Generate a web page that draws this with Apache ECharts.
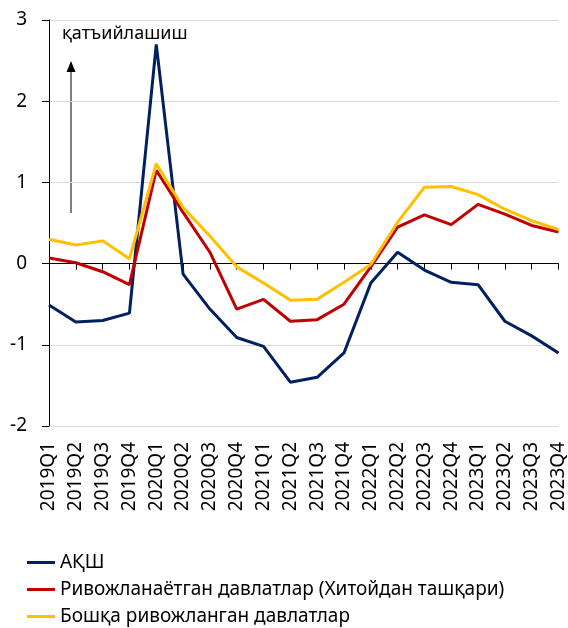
<!DOCTYPE html>
<html>
<head>
<meta charset="utf-8">
<script src="https://cdn.jsdelivr.net/npm/echarts@6/dist/echarts.min.js"></script>
<style>
  html, body { margin: 0; padding: 0; background: #fff; }
  #chart { width: 568px; height: 628px; }
</style>
</head>
<body>
<div id="chart"></div>
<script>
// categories
var quarters = ['2019Q1','2019Q2','2019Q3','2019Q4','2020Q1','2020Q2','2020Q3','2020Q4',
  '2021Q1','2021Q2','2021Q3','2021Q4','2022Q1','2022Q2','2022Q3','2022Q4',
  '2023Q1','2023Q2','2023Q3','2023Q4'];
// series values
var usa = [-0.51,-0.72,-0.70,-0.61,2.70,-0.13,-0.56,-0.91,-1.02,-1.46,-1.40,-1.10,-0.24,0.14,-0.08,-0.23,-0.26,-0.71,-0.89,-1.10];
var emerging = [0.07,0.01,-0.10,-0.26,1.15,0.63,0.14,-0.56,-0.44,-0.71,-0.69,-0.50,-0.04,0.45,0.60,0.48,0.73,0.61,0.47,0.39];
var advanced = [0.30,0.23,0.28,0.06,1.23,0.69,0.34,-0.04,-0.24,-0.45,-0.44,-0.23,-0.01,0.51,0.94,0.95,0.85,0.67,0.53,0.42];
var seriesNames = ['АҚШ', 'Ривожланаётган давлатлар (Хитойдан ташқари)', 'Бошқа ривожланган давлатлар'];

var FONT = 'Noto Sans';

var chart = echarts.init(document.getElementById('chart'));

var option = {
  animation: false,
  color: ['#002060', '#C00000', '#FFC000'],
  textStyle: { fontFamily: FONT },
  grid: { left: 49, right: 9, top: 20, bottom: 202 },
  legend: {
    orient: 'vertical',
    left: 27,
    top: 553,
    height: 100,
    padding: 0,
    itemWidth: 28,
    itemHeight: 3,
    itemGap: 8,
    icon: 'rect',
    textStyle: { fontSize: 19, color: '#000', fontFamily: FONT },
    data: seriesNames
  },
  xAxis: [
    {
      // labels at the bottom
      type: 'category',
      data: quarters,
      boundaryGap: false,
      position: 'bottom',
      axisLine: { show: false, onZero: false },
      axisTick: { show: false },
      axisLabel: { rotate: 90, interval: 0, margin: 16, fontSize: 19, color: '#000', fontFamily: FONT }
    },
    {
      // axis line on zero with ticks
      type: 'category',
      data: quarters,
      boundaryGap: false,
      position: 'bottom',
      axisLine: { show: true, onZero: true, lineStyle: { color: '#000', width: 1 } },
      axisTick: { show: true, length: 6, interval: 0, lineStyle: { color: '#000' } },
      axisLabel: { show: false }
    }
  ],
  yAxis: {
    type: 'value',
    min: -2,
    max: 3,
    interval: 1,
    axisLine: { show: true, lineStyle: { color: '#000', width: 1 } },
    axisTick: { show: true, length: 7, lineStyle: { color: '#000' } },
    axisLabel: { fontSize: 19, color: '#000', margin: 22, fontFamily: FONT },
    splitLine: { lineStyle: { color: '#d9d9d9', width: 1 } }
  },
  graphic: [
    {
      type: 'text',
      x: 62,
      y: 34,
      style: { text: 'қатъийлашиш', fontSize: 18, fill: '#000', fontFamily: FONT, verticalAlign: 'middle' }
    },
    {
      type: 'line',
      shape: { x1: 71, y1: 213, x2: 71, y2: 70 },
      style: { stroke: '#808080', lineWidth: 2 }
    },
    {
      type: 'polygon',
      shape: { points: [[71, 61], [66.5, 72], [75.5, 72]] },
      style: { fill: '#000' }
    }
  ],
  series: [
    { name: seriesNames[0], type: 'line', data: usa, showSymbol: false, lineStyle: { width: 3 } },
    { name: seriesNames[1], type: 'line', data: emerging, showSymbol: false, lineStyle: { width: 3 } },
    { name: seriesNames[2], type: 'line', data: advanced, showSymbol: false, lineStyle: { width: 3 } }
  ]
};

chart.setOption(option);
</script>
</body>
</html>
